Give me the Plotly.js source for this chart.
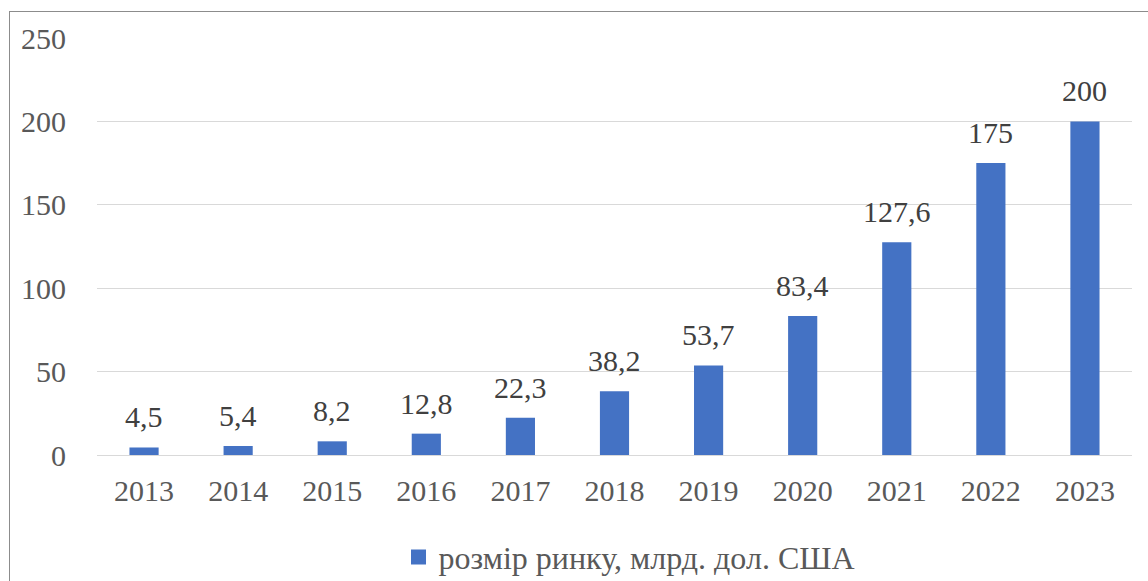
<!DOCTYPE html>
<html>
<head>
<meta charset="utf-8">
<script src="https://cdn.plot.ly/plotly-3.0.1.min.js"></script>
<style>
html,body{margin:0;padding:0;background:#fff;overflow:hidden;}
#chart{position:absolute;left:0;top:0;width:1148px;height:581px;}
#frame{position:absolute;left:9px;top:11px;width:1200px;height:700px;border:1px solid #8c8c8c;pointer-events:none;}
</style>
</head>
<body>
<div id="chart"></div>
<div id="frame"></div>
<script>
const years = ['2013','2014','2015','2016','2017','2018','2019','2020','2021','2022','2023'];
const marketSize = [4.5, 5.4, 8.2, 12.8, 22.3, 38.2, 53.7, 83.4, 127.6, 175, 200];
const seriesName = 'розмір ринку, млрд. дол. США';
const yTicks = [0, 50, 100, 150, 200, 250];

const fontFam = '"Liberation Serif", "Times New Roman", serif';
const labels = marketSize.map(v => String(v).replace('.', ','));

const barTrace = {
  type: 'bar',
  x: years,
  y: marketSize,
  name: seriesName,
  marker: {color: '#4472C4'},
  showlegend: false
};

const legendTrace = {
  type: 'scatter', mode: 'markers',
  x: [null], y: [null],
  name: seriesName,
  marker: {color: '#4472C4', symbol: 'square', size: 15},
  showlegend: true
};

const annotations = years.map((yr, i) => ({
  x: i, y: marketSize[i], xref: 'x', yref: 'y',
  text: labels[i], showarrow: false,
  yanchor: 'bottom', yshift: 12,
  font: {family: fontFam, size: 30, color: '#404040'}
}));

const layout = {
  width: 1148, height: 581,
  margin: {l: 97, r: 16, t: 38, b: 126, autoexpand: false},
  paper_bgcolor: '#fff', plot_bgcolor: '#fff',
  bargap: 0.69,
  font: {family: fontFam, size: 30, color: '#595959'},
  xaxis: {
    type: 'category',
    categoryorder: 'array', categoryarray: years,
    tickfont: {family: fontFam, size: 30, color: '#595959'},
    showgrid: false, showline: false, ticks: '',
    ticklabelstandoff: 15, automargin: false
  },
  yaxis: {
    range: [0, 250],
    tickvals: yTicks,
    tickfont: {family: fontFam, size: 30, color: '#595959'},
    showgrid: true, gridcolor: '#d9d9d9', gridwidth: 1,
    zeroline: true, zerolinecolor: '#d9d9d9', zerolinewidth: 1,
    showline: false, ticks: '',
    ticklabelstandoff: 30, automargin: false
  },
  legend: {
    orientation: 'h', x: 0.5145, xanchor: 'center', y: -0.245, yanchor: 'middle',
    font: {family: fontFam, size: 32, color: '#595959'},
    itemwidth: 30
  },
  annotations: annotations
};

Plotly.newPlot('chart', [barTrace, legendTrace], layout, {displayModeBar: false, staticPlot: true});
</script>
</body>
</html>
